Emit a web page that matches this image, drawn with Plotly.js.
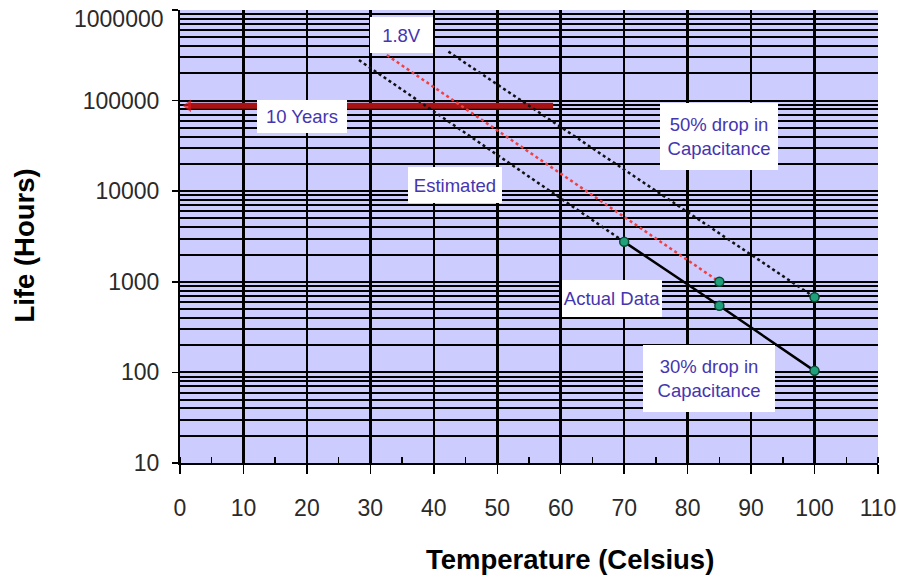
<!DOCTYPE html>
<html>
<head>
<meta charset="utf-8">
<script src="https://cdn.plot.ly/plotly-3.0.1.min.js"></script>
<style>html,body{margin:0;padding:0;background:#fff}#chart{width:907px;height:577px}</style>
</head>
<body>
<div id="chart"></div>
<script>
// Data
var actualTemps = [70, 85, 100];
var actualLife30 = [2760, 543, 104];

var estTemps30 = [28.2, 70];
var estLife30 = [280000, 2760];

var v18Temps = [32.6, 85];
var v18Life = [318000, 1000];

var drop50Temps = [42.3, 100];
var drop50Life = [347000, 675];

var tenYearsTemps = [58.8, 1.3];
var tenYearsLife = [87600, 87600];

var xTicks = [0, 10, 20, 30, 40, 50, 60, 70, 80, 90, 100, 110];
var yTicks = [10, 100, 1000, 10000, 100000, 1000000];
var yTickText = ['10', '100', '1000', '10000', '100000', ''];
var yTopLabel = '1000000';

var markerStyle = {color: '#1fa07a', size: 9, line: {color: '#0b4a35', width: 1.5}};

var traces = [
  {x: tenYearsTemps, y: tenYearsLife, mode: 'lines+markers', line: {color: '#a81212', width: 6},
   marker: {symbol: ['circle', 'triangle-left'], size: [0, 11], color: '#e01818', line: {width: 0}},
   hoverinfo: 'skip'},
  {x: estTemps30, y: estLife30, mode: 'lines', line: {color: '#111', width: 2.5, dash: 'dot'}},
  {x: v18Temps, y: v18Life, mode: 'lines', line: {color: '#f04040', width: 2.5, dash: 'dot'}},
  {x: drop50Temps, y: drop50Life, mode: 'lines', line: {color: '#111', width: 2.5, dash: 'dot'}},
  {x: actualTemps, y: actualLife30, mode: 'lines', line: {color: '#000', width: 2.5}},
  {x: [v18Temps[1]], y: [v18Life[1]], mode: 'markers', marker: markerStyle},
  {x: [drop50Temps[1]], y: [drop50Life[1]], mode: 'markers', marker: markerStyle},
  {x: actualTemps, y: actualLife30, mode: 'markers', marker: markerStyle}
];

var txtFont = {family: 'Liberation Sans, Arial, sans-serif', size: 18.5, color: '#4535b0'};
function box(text, x, ylog, w, h) {
  return {text: text, x: x, y: ylog, xref: 'x', yref: 'y', showarrow: false,
          bgcolor: '#ffffff', width: w, height: h, font: txtFont, align: 'center',
          borderpad: 0, borderwidth: 0};
}
var titleFont = {size: 27.5, color: '#000', family: 'Liberation Sans, Arial, sans-serif', weight: 'bold'};

var layout = {
  width: 907, height: 577,
  margin: {l: 180, r: 29, t: 10, b: 114},
  paper_bgcolor: '#ffffff',
  plot_bgcolor: '#ccccff',
  showlegend: false,
  font: {family: 'Liberation Sans, Arial, sans-serif', color: '#222'},
  xaxis: {
    range: [0, 110], tickvals: xTicks, ticktext: xTicks.map(String),
    showgrid: true, gridcolor: '#000', gridwidth: 2.5,
    zeroline: false, showline: true, linecolor: '#000', linewidth: 2,
    ticks: 'outside', ticklen: 9, tickwidth: 1.5, tickcolor: '#000',
    ticklabelstandoff: 14, ticklabeloverflow: 'allow',
    tickfont: {size: 23, color: '#2a2a2a'},
    minor: {dtick: 5, tick0: 0, ticks: 'inside', ticklen: 6, tickwidth: 1.5, tickcolor: '#000', showgrid: false}
  },
  yaxis: {
    type: 'log', range: [1, 6], tickvals: yTicks, ticktext: yTickText,
    showgrid: true, gridcolor: '#000', gridwidth: 2,
    zeroline: false, showline: true, linecolor: '#000', linewidth: 2,
    ticks: 'outside', ticklen: 6, tickwidth: 1.5, tickcolor: '#000',
    ticklabelstandoff: 8, ticklabeloverflow: 'allow',
    tickfont: {size: 23, color: '#2a2a2a'},
    minor: {dtick: 'D1', showgrid: true, gridcolor: '#000', gridwidth: 2, ticks: ''}
  },
  annotations: [
    box('1.8V', 34.9, 5.724, 63, 36),
    box('10 Years', 19.2, 4.825, 90, 33),
    box('Estimated', 43.3, 4.068, 94, 36),
    box('50% drop in<br>Capacitance', 84.9, 4.604, 118, 67),
    box('Actual Data', 68.1, 2.816, 100, 37),
    box('30% drop in<br>Capacitance', 83.4, 1.933, 132, 67),
    {text: yTopLabel, xref: 'paper', yref: 'paper', x: -0.0201, y: 0.981,
     xanchor: 'right', yanchor: 'middle', showarrow: false,
     font: {size: 23, color: '#2a2a2a', family: 'Liberation Sans, Arial, sans-serif'}},
    {text: 'Temperature (Celsius)', xref: 'paper', yref: 'paper', x: 0.559, y: -0.213,
     xanchor: 'center', yanchor: 'middle', showarrow: false, font: titleFont},
    {text: 'Life (Hours)', xref: 'paper', yref: 'paper', x: -0.222, y: 0.48, textangle: -90,
     xanchor: 'center', yanchor: 'middle', showarrow: false, font: titleFont}
  ]
};

Plotly.newPlot('chart', traces, layout, {displayModeBar: false, staticPlot: true});
</script>
</body>
</html>
